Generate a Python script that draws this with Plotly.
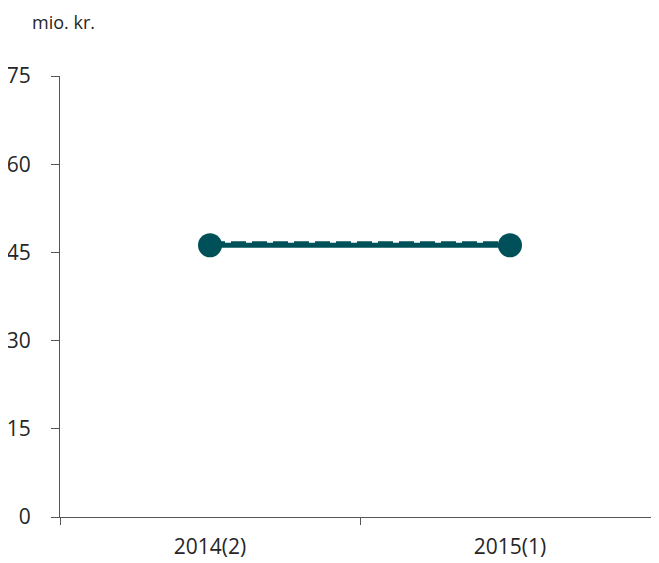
import plotly.graph_objects as go

categories = ["2014(2)", "2015(1)"]
series_solid = [46.2, 46.2]
series_dashed = [46.55, 46.55]
y_ticks = [0, 15, 30, 45, 60, 75]

color = "#00505A"
txt = "#262626"

# page body has 8px margin -> figure drawn at (8,8)
W, H = 652, 555
L, R, T, B = 52, 0, 68, 46
pw, ph = W - L - R, H - T - B

fig = go.Figure()
fig.add_trace(go.Scatter(
    x=categories, y=series_dashed, mode="lines",
    line=dict(color=color, width=4, dash="15px,6px"), showlegend=False))
fig.add_trace(go.Scatter(
    x=categories, y=series_solid, mode="lines+markers",
    line=dict(color=color, width=5),
    marker=dict(size=24, color=color), showlegend=False))

fig.update_layout(
    width=W, height=H,
    margin=dict(l=L, r=R, t=T, b=B, autoexpand=False),
    plot_bgcolor="white", paper_bgcolor="white",
    font=dict(family="Open Sans", size=21, color=txt),
    annotations=[dict(text="mio. kr.", x=(22 - L) / pw, y=(ph + T - 14) / ph,
                      xref="paper", yref="paper",
                      xanchor="left", yanchor="middle", showarrow=False,
                      font=dict(size=18, color=txt))],
)

fig.update_xaxes(
    type="category", range=[-0.5, 1.5], showline=True, linecolor="#555555",
    linewidth=1, ticks="outside", tickson="boundaries", ticklen=7,
    tickcolor="#555555", showgrid=False, zeroline=False,
    ticklabelstandoff=11, automargin=False,
    tickfont=dict(size=21, color=txt))
fig.update_yaxes(
    range=[0, 75], tickvals=y_ticks, showline=True, linecolor="#555555",
    linewidth=1, ticks="outside", ticklen=8, tickcolor="#555555",
    showgrid=False, zeroline=False, ticklabelstandoff=16, automargin=False,
    tickfont=dict(size=21, color=txt))

fig.write_html("out.html")
